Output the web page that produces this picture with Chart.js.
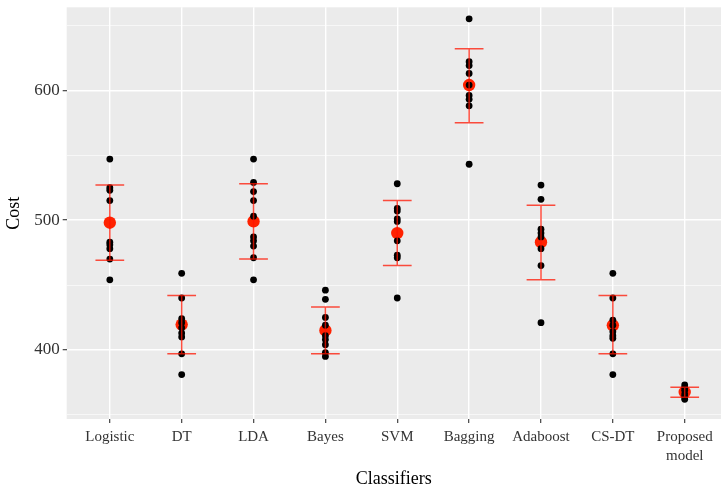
<!DOCTYPE html>
<html>
<head>
<meta charset="utf-8">
<script src="https://cdn.jsdelivr.net/npm/chart.js@4.4.1/dist/chart.umd.min.js"></script>
<style>
  html, body { margin: 0; padding: 0; background: #fff; overflow: hidden; }
  #wrap { width: 721px; height: 490px; }
</style>
</head>
<body>
<div id="wrap"><canvas id="myChart"></canvas></div>
<script>
// Data
const classifiers = ['Logistic', 'DT', 'LDA', 'Bayes', 'SVM', 'Bagging', 'Adaboost', 'CS-DT', ['Proposed', 'model']];
const costLogistic = [547, 525, 523, 515, 483, 481, 478, 470, 454];
const costDT = [459, 440, 424, 421, 417, 413, 410, 397, 381];
const costLDA = [547, 529, 522, 515, 503, 487, 484, 480, 471, 454];
const costBayes = [446, 439, 425, 419, 411, 408, 404, 398, 395];
const costSVM = [528, 509, 507, 501, 499, 484, 473, 471, 440];
const costBagging = [655, 622, 619, 613, 604, 596, 593, 588, 543];
const costAdaboost = [527, 516, 493, 490, 487, 478, 465, 421];
const costCSDT = [459, 440, 423, 419, 414, 411, 409, 397, 381];
const costProposed = [373, 371, 369, 366, 364, 362];
const costs = [costLogistic, costDT, costLDA, costBayes, costSVM, costBagging, costAdaboost, costCSDT, costProposed];
const means = [498, 419.5, 499, 415, 490, 604, 483, 419, 367.5];
const upper = [527, 442, 528, 433, 515, 632, 511.5, 442, 371.2];
const lower = [469, 397, 470, 397, 465, 575, 454, 397, 363.5];
const yMajor = [400, 500, 600];
const yMinor = [350, 450, 550, 650];

const serif = "'Liberation Serif', 'DejaVu Serif', serif";

const panelBg = {
  id: 'panelBg',
  beforeDraw(chart) {
    const {ctx, chartArea: a} = chart;
    ctx.save();
    ctx.fillStyle = '#EBEBEB';
    ctx.fillRect(a.left, a.top, a.right - a.left, a.bottom - a.top);
    ctx.restore();
  }
};

// error bars drawn right after the raw points, below the red means
const errorBars = {
  id: 'errorBars',
  afterDatasetDraw(chart, args) {
    if (args.index !== 0) return;
    const {ctx, scales: {x, y}} = chart;
    ctx.save();
    ctx.strokeStyle = 'rgba(255, 20, 0, 0.75)';
    ctx.lineWidth = 1.5;
    means.forEach((m, i) => {
      const cx = x.getPixelForValue(i);
      const x0 = x.getPixelForValue(i - 0.2);
      const x1 = x.getPixelForValue(i + 0.2);
      const yt = y.getPixelForValue(upper[i]);
      const yb = y.getPixelForValue(lower[i]);
      ctx.beginPath();
      ctx.moveTo(cx, yt); ctx.lineTo(cx, yb);
      ctx.moveTo(x0, yt); ctx.lineTo(x1, yt);
      ctx.moveTo(x0, yb); ctx.lineTo(x1, yb);
      ctx.stroke();
    });
    ctx.restore();
  }
};

new Chart(document.getElementById('myChart'), {
  type: 'scatter',
  plugins: [panelBg, errorBars],
  data: {
    datasets: [
      {
        label: 'Cost',
        data: costs.flatMap((vals, i) => vals.map(v => ({x: i, y: v}))),
        pointRadius: 3.4,
        pointBackgroundColor: '#000',
        pointBorderWidth: 0
      },
      {
        label: 'Mean',
        data: means.map((m, i) => ({x: i, y: m})),
        pointRadius: 6.2,
        pointBackgroundColor: '#FF2200',
        pointBorderWidth: 0
      }
    ]
  },
  options: {
    responsive: true,
    maintainAspectRatio: false,
    animation: false,
    layout: { autoPadding: false, padding: { top: 7.3, right: 0, left: 0, bottom: 0 } },
    plugins: {
      legend: { display: false },
      tooltip: { enabled: false }
    },
    scales: {
      x: {
        type: 'linear',
        min: -0.6,
        max: 8.505,
        afterBuildTicks: axis => { axis.ticks = classifiers.map((c, i) => ({value: i})); },
        afterFit: axis => {
          axis.height = 71;
          axis.paddingLeft = 0;
          axis.paddingRight = 0;
        },
        border: { display: false },
        grid: {
          color: '#FFFFFF',
          lineWidth: 1.4,
          tickColor: '#333333',
          tickLength: 4,
          tickWidth: 1.1
        },
        ticks: {
          callback: v => classifiers[v],
          autoSkip: false,
          maxRotation: 0,
          padding: 5,
          color: '#333333',
          font: { family: serif, size: 15, lineHeight: 1.25 }
        },
        title: {
          display: true,
          text: 'Classifiers',
          color: '#000',
          padding: { top: 0, bottom: 0 },
          font: { family: serif, size: 18 }
        }
      },
      y: {
        type: 'linear',
        min: 346.8,
        max: 663.9,
        afterBuildTicks: axis => {
          axis.ticks = [...yMinor, ...yMajor].sort((a, b) => a - b).map(v => ({value: v}));
        },
        afterFit: axis => {
          axis.width = 66.7;
          axis.paddingTop = 0;
          axis.paddingBottom = 0;
        },
        border: { display: false },
        grid: {
          color: '#FFFFFF',
          lineWidth: ctx => yMajor.includes(ctx.tick.value) ? 1.4 : 0.6,
          tickColor: ctx => yMajor.includes(ctx.tick.value) ? '#333333' : 'rgba(0,0,0,0)',
          tickLength: 4,
          tickWidth: 1.1
        },
        ticks: {
          callback: v => yMajor.includes(v) ? String(v) : '',
          padding: 3,
          color: '#333333',
          font: { family: serif, size: 17 }
        },
        title: {
          display: true,
          text: 'Cost',
          color: '#000',
          padding: { top: 3, bottom: 0 },
          font: { family: serif, size: 18 }
        }
      }
    }
  }
});
</script>
</body>
</html>
